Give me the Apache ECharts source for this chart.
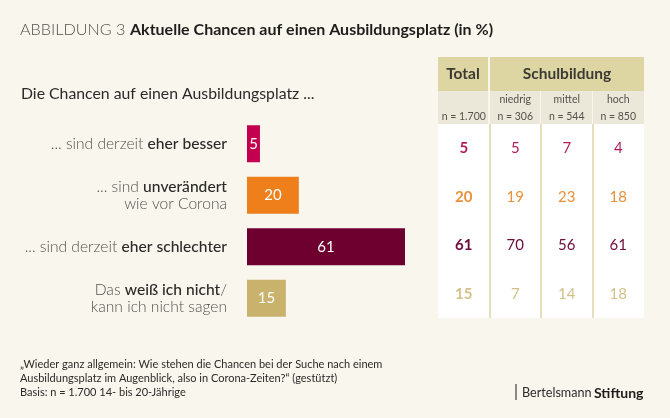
<!DOCTYPE html>
<html>
<head>
<meta charset="utf-8">
<style>html,body{margin:0;padding:0;background:#f9f6ee}#chart{width:670px;height:418px}</style>
<script src="https://cdn.jsdelivr.net/npm/echarts@6/dist/echarts.min.js"></script>
</head>
<body>
<div id="chart"></div>
<script>
// Fragen, {b|...} = fett gesetzter Teil
const categories = [
  '... sind derzeit {b|eher besser}',
  '... sind {b|unverändert}\nwie vor Corona',
  '... sind derzeit {b|eher schlechter}',
  'Das {b|weiß ich nicht}/\nkann ich nicht sagen'
]
const totalValues = [5, 20, 61, 15]
const columns = ['\nn = 1.700', 'niedrig\nn = 306', 'mittel\nn = 544', 'hoch\nn = 850']
const niedrig = [5, 19, 70, 7]
const mittel = [7, 23, 56, 14]
const hoch = [4, 18, 61, 18]
const barColors = ['#c2004f', '#ee7f1a', '#6e0030', '#c9b26c']
const cellColors = ['#b01e5a', '#e8913a', '#6e0b3a', '#d2c188']

const font = 'Lato'
const textGray = '#55524d'
const dark = '#2c2a28'

function tableCells(values, col) {
  return values.map((v, row) => ({
    value: [col, row, v],
    label: {color: cellColors[row]}
  }))
}

function tableSeries(values, col, bold) {
  return {
    type: 'scatter',
    xAxisIndex: 1,
    yAxisIndex: 1,
    symbolSize: 0,
    silent: true,
    itemStyle: {opacity: 1},
    data: tableCells(values, col),
    label: {
      show: true,
      position: 'inside',
      fontFamily: font,
      fontSize: 15,
      fontWeight: bold ? 700 : 400,
      formatter: p => p.value[2]
    }
  }
}

let chart = echarts.init(document.getElementById('chart'))
chart.setOption({
  animation: false,
  backgroundColor: '#f9f6ee',
  textStyle: {fontFamily: font},
  grid: [
    {left: 247, top: 118, width: 259, height: 206},
    {left: 438, top: 124, width: 206, height: 194}
  ],
  xAxis: [{
    gridIndex: 0,
    type: 'value',
    min: 0,
    max: 100,
    show: false
  }, {
    gridIndex: 1,
    type: 'category',
    position: 'top',
    data: columns,
    axisLine: {show: false},
    axisTick: {show: false},
    axisLabel: {
      color: textGray,
      fontFamily: font,
      fontSize: 10.5,
      lineHeight: 17,
      margin: -1,
      interval: 0
    },
    splitLine: {show: true, interval: 0, showMinLine: false, showMaxLine: false, lineStyle: {color: '#ddd6a3', width: 1.5}}
  }],
  yAxis: [{
    gridIndex: 0,
    type: 'category',
    inverse: true,
    data: categories,
    axisLine: {show: false},
    axisTick: {show: false},
    axisLabel: {
      color: textGray,
      fontFamily: font,
      fontSize: 15.6,
      fontWeight: 300,
      lineHeight: 17,
      margin: 20,
      align: 'right',
      rich: {b: {color: dark, fontFamily: font, fontSize: 15.6, fontWeight: 500, lineHeight: 17}}
    }
  }, {
    gridIndex: 1,
    type: 'category',
    inverse: true,
    data: categories,
    show: false
  }],
  series: [{
    type: 'bar',
    xAxisIndex: 0,
    yAxisIndex: 0,
    barWidth: 37,
    data: totalValues.map((v, i) => ({value: v, itemStyle: {color: barColors[i]}})),
    label: {
      show: true,
      position: 'inside',
      color: '#fff',
      fontFamily: font,
      fontSize: 15
    }
  },
  tableSeries(totalValues, 0, true),
  tableSeries(niedrig, 1, false),
  tableSeries(mittel, 2, false),
  tableSeries(hoch, 3, false)
  ],
  graphic: [
    // Tabellenkopf
    {type: 'rect', z: -1, shape: {x: 438, y: 124, width: 206, height: 194}, style: {fill: '#ffffff'}},
    {type: 'rect', z: -1, shape: {x: 438, y: 57, width: 50, height: 34}, style: {fill: '#ddd6a3'}},
    {type: 'rect', z: -1, shape: {x: 490, y: 57, width: 154, height: 34}, style: {fill: '#ddd6a3'}},
    {type: 'rect', z: -1, shape: {x: 438, y: 91, width: 50, height: 33}, style: {fill: '#ebe8d9'}},
    {type: 'rect', z: -1, shape: {x: 490, y: 91, width: 50, height: 33}, style: {fill: '#ebe8d9'}},
    {type: 'rect', z: -1, shape: {x: 541, y: 91, width: 51, height: 33}, style: {fill: '#ebe8d9'}},
    {type: 'rect', z: -1, shape: {x: 593, y: 91, width: 51, height: 33}, style: {fill: '#ebe8d9'}},
    {type: 'text', style: {x: 463, y: 74, text: 'Total', align: 'center', verticalAlign: 'middle', fill: '#3c3a34', font: '700 15.5px Lato'}},
    {type: 'text', style: {x: 567, y: 74, text: 'Schulbildung', align: 'center', verticalAlign: 'middle', fill: '#3c3a34', font: '700 15.5px Lato'}},
    // Titel
    {type: 'text', style: {x: 20, y: 30, text: 'ABBILDUNG 3', verticalAlign: 'middle', fill: '#55524d', font: '300 16.2px Lato'}},
    {type: 'text', style: {x: 130, y: 30, text: 'Aktuelle Chancen auf einen Ausbildungsplatz (in %)', verticalAlign: 'middle', fill: '#1f1d1b', font: '700 16px Lato'}},
    {type: 'text', style: {x: 21, y: 94, text: 'Die Chancen auf einen Ausbildungsplatz ...', verticalAlign: 'middle', fill: '#2c2a28', font: '400 15.8px Lato'}},
    // Fussnote
    {type: 'text', style: {x: 20, y: 364, text: '„Wieder ganz allgemein: Wie stehen die Chancen bei der Suche nach einem', verticalAlign: 'middle', fill: '#2c2a28', font: '400 11px Lato'}},
    {type: 'text', style: {x: 20, y: 378, text: 'Ausbildungsplatz im Augenblick, also in Corona-Zeiten?“ (gestützt)', verticalAlign: 'middle', fill: '#2c2a28', font: '400 11px Lato'}},
    {type: 'text', style: {x: 20, y: 392, text: 'Basis: n = 1.700 14- bis 20-Jährige', verticalAlign: 'middle', fill: '#2c2a28', font: '400 11px Lato'}},
    // Logo
    {type: 'line', shape: {x1: 516, y1: 384, x2: 516, y2: 400}, style: {stroke: '#1f1d1b', lineWidth: 1}},
    {type: 'text', style: {x: 522, y: 393, text: 'Bertelsmann', verticalAlign: 'middle', fill: '#2c2a28', font: '400 12.6px Lato'}},
    {type: 'text', style: {x: 594, y: 393, text: 'Stiftung', verticalAlign: 'middle', fill: '#1f1d1b', font: '700 14px Lato'}}
  ]
})
</script>
</body>
</html>
